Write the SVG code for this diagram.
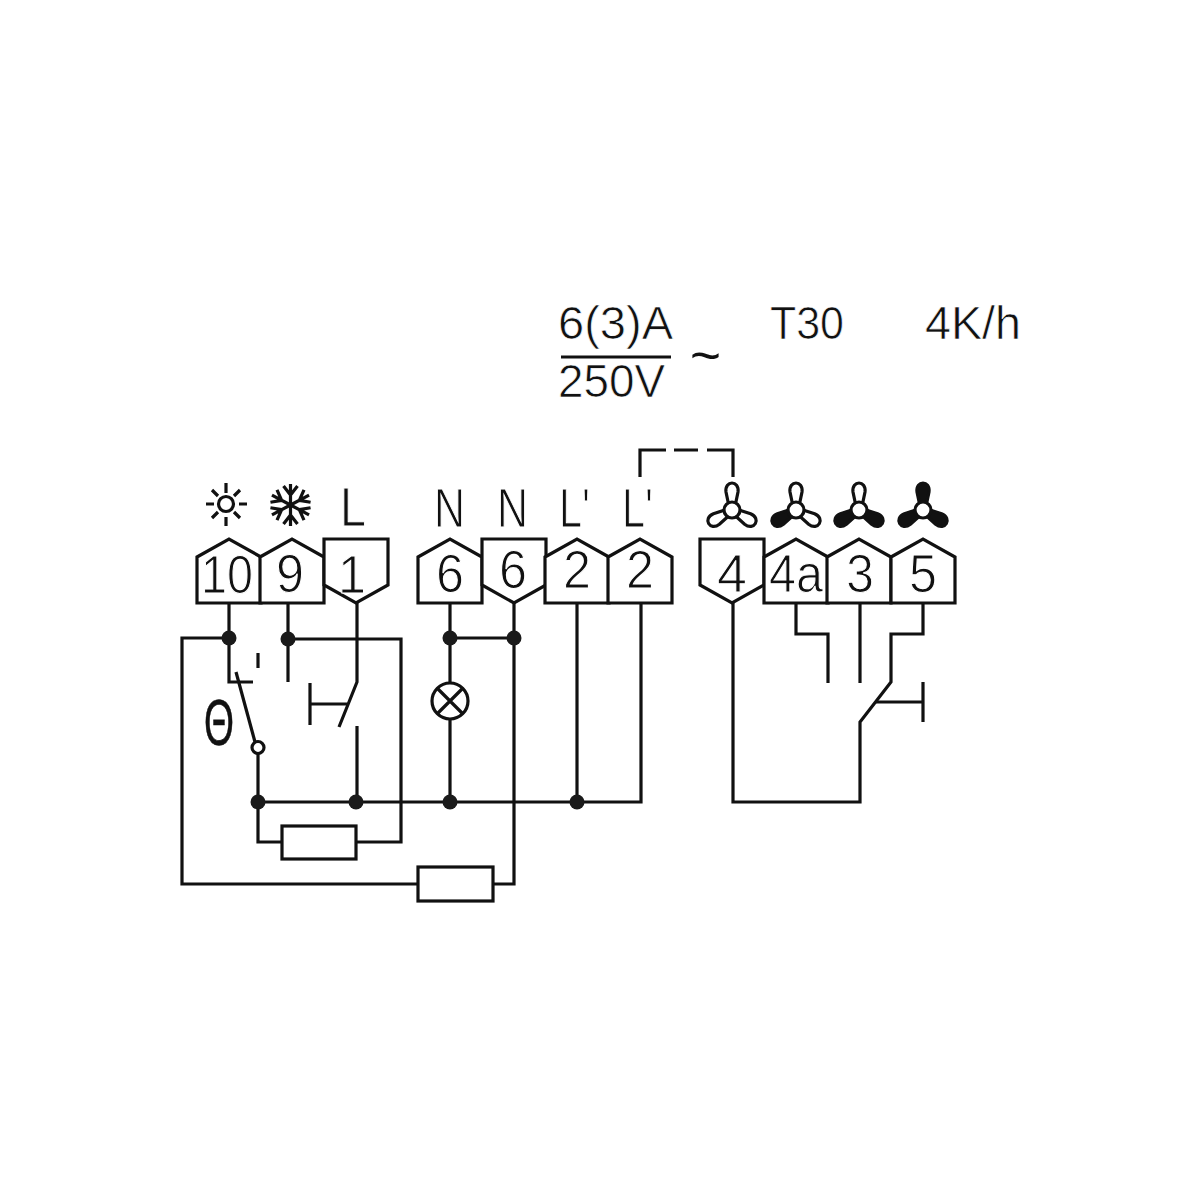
<svg xmlns="http://www.w3.org/2000/svg" width="1200" height="1200" viewBox="0 0 1200 1200">
<style>
.w{fill:none;stroke:#111;stroke-width:3.2;stroke-linejoin:miter;stroke-linecap:butt}
.b{fill:#fff;stroke:#111;stroke-width:3.2}
.d{fill:#1a1a1a}
.t{font-family:"Liberation Sans",Arial,sans-serif;font-size:53px;fill:#111;stroke:#fff;stroke-width:1.1px}
.l{font-size:56px}
.s{font-size:47px;stroke-width:.7px}
.bl{fill:#fff;stroke:#111;stroke-width:3.2}
.bk{fill:#111;stroke:#111;stroke-width:3.2}
</style>
<defs>
<path id="pent-up" d="M0,18 L32,0 L64,18 V64 H0 Z"/>
<path id="pent-down" d="M0,0 H64 V46 L32,64 L0,46 Z"/>
<path id="blade" d="M-3.500,-6 L-6,-18 C-7.500,-30 7.500,-30 6,-18 L3.500,-6 Z"/>
<path id="arm" d="M0,0V-21M0,-10L-7,-19M0,-10L7,-19"/>
</defs>

<g id="connectors" class="w">
<path d="M229,603V682H253"/>
<path d="M229,638H182V884H418"/>
<path d="M288,603V682"/>
<path d="M288,639H401V842H356"/>
<path d="M282,842H258V802"/>
<path d="M357,603V682L339,727"/>
<path d="M357,726V802"/>
<path d="M310,683V725M310,704H347"/>
<path d="M236,672L255,742"/>
<path d="M258,653V668"/>
<path d="M258,754V802"/>
<path d="M258,802H641V603"/>
<path d="M450,603V802"/>
<path d="M450,638H514"/>
<path d="M514,603V884H493"/>
<path d="M577,603V802"/>
<path d="M640,477V450H666M674,450H698M707,450H733V477"/>
<path d="M733,603V802H860V722L891,682V634H923V603"/>
<path d="M796,603V634H828V683"/>
<path d="M860,603V683"/>
<path d="M923,682V722M923,702H876"/>
<path d="M561,357H671"/>
</g>
<g id="junctions" class="d">
<circle cx="229" cy="638" r="7.500"/><circle cx="288" cy="639" r="7.500"/>
<circle cx="450" cy="638" r="7.500"/><circle cx="514" cy="638" r="7.500"/>
<circle cx="258" cy="802" r="7.500"/><circle cx="356" cy="802" r="7.500"/>
<circle cx="450" cy="802" r="7.500"/><circle cx="577" cy="802" r="7.500"/>
</g>

<g id="t10"><use href="#pent-up" x="197" y="539" class="b"/><text class="t" x="201" y="593" textLength="52" lengthAdjust="spacingAndGlyphs">10</text></g>
<g id="t9"><use href="#pent-up" x="260" y="539" class="b"/><text class="t" x="276" y="592" textLength="28" lengthAdjust="spacingAndGlyphs">9</text></g>
<g id="t1"><use href="#pent-down" x="324" y="539" class="b"/><text class="t" x="338" y="593" textLength="28" lengthAdjust="spacingAndGlyphs">1</text></g>
<g id="t6a"><use href="#pent-up" x="418" y="539" class="b"/><text class="t" x="436" y="592" textLength="28" lengthAdjust="spacingAndGlyphs">6</text></g>
<g id="t6b"><use href="#pent-down" x="482" y="539" class="b"/><text class="t" x="499" y="588" textLength="28" lengthAdjust="spacingAndGlyphs">6</text></g>
<g id="t2a"><use href="#pent-up" x="545" y="539" class="b"/><text class="t" x="563" y="588" textLength="28" lengthAdjust="spacingAndGlyphs">2</text></g>
<g id="t2b"><use href="#pent-up" x="608" y="539" class="b"/><text class="t" x="626" y="588" textLength="28" lengthAdjust="spacingAndGlyphs">2</text></g>
<g id="t4"><use href="#pent-down" x="700" y="539" class="b"/><text class="t" x="717" y="592" textLength="30" lengthAdjust="spacingAndGlyphs">4</text></g>
<g id="t4a"><use href="#pent-up" x="764" y="539" class="b"/><text class="t" x="769" y="592" textLength="54" lengthAdjust="spacingAndGlyphs">4a</text></g>
<g id="t3"><use href="#pent-up" x="827" y="539" class="b"/><text class="t" x="846" y="592" textLength="28" lengthAdjust="spacingAndGlyphs">3</text></g>
<g id="t5"><use href="#pent-up" x="891" y="539" class="b"/><text class="t" x="909" y="592" textLength="28" lengthAdjust="spacingAndGlyphs">5</text></g>

<g id="lbl-L"><text class="t l" x="340" y="526" textLength="26" lengthAdjust="spacingAndGlyphs">L</text></g>
<g id="lbl-N1"><text class="t l" x="434" y="527" textLength="31" lengthAdjust="spacingAndGlyphs">N</text></g>
<g id="lbl-N2"><text class="t l" x="497" y="527" textLength="31" lengthAdjust="spacingAndGlyphs">N</text></g>
<g id="lbl-L1"><text class="t l" x="559" y="527" textLength="31" lengthAdjust="spacingAndGlyphs">L'</text></g>
<g id="lbl-L2"><text class="t l" x="622" y="527" textLength="31" lengthAdjust="spacingAndGlyphs">L'</text></g>

<g id="rating">
<text class="t s" x="558" y="339" textLength="115" lengthAdjust="spacingAndGlyphs">6(3)A</text>
<text class="t s" x="558" y="397" textLength="107" lengthAdjust="spacingAndGlyphs">250V</text>
<text x="690" y="373" textLength="31" lengthAdjust="spacingAndGlyphs" style="font-family:'Liberation Sans',sans-serif;font-size:52px;fill:#111">~</text>
<text class="t s" x="770" y="339" textLength="74" lengthAdjust="spacingAndGlyphs">T30</text>
<text class="t s" x="925" y="339" textLength="96" lengthAdjust="spacingAndGlyphs">4K/h</text>
</g>

<g id="sun" class="w">
<circle cx="226" cy="504" r="7.500"/>
<path d="M226,483V493M226,517V526M206,504H214M239,504H247M212,490L218,496M240,490L234,496M212,518L218,512M240,518L234,512"/>
</g>
<g id="snow" class="w" style="stroke-width:3.200">
<use href="#arm" transform="translate(290.500,505)"/>
<use href="#arm" transform="translate(290.500,505) rotate(62)"/>
<use href="#arm" transform="translate(290.500,505) rotate(118)"/>
<use href="#arm" transform="translate(290.500,505) rotate(180)"/>
<use href="#arm" transform="translate(290.500,505) rotate(242)"/>
<use href="#arm" transform="translate(290.500,505) rotate(298)"/>
</g>

<g id="thermostat">
<text x="204" y="745" textLength="30" lengthAdjust="spacingAndGlyphs" style="font-family:'Liberation Sans',sans-serif;font-size:64px;fill:#111;stroke:#111;stroke-width:.6px">Θ</text>
<circle class="b" cx="258" cy="747.500" r="6"/>
</g>

<g id="lamp">
<circle class="b" cx="450" cy="701" r="18"/>
<path class="w" d="M437,688L463,714M463,688L437,714"/>
</g>
<g id="res1"><rect class="b" x="282" y="826" width="74" height="33"/></g>
<g id="res2"><rect class="b" x="418" y="867" width="75" height="34"/></g>

<g id="fan1"><use href="#blade" class="bl" transform="translate(732,510)"/><use href="#blade" class="bl" transform="translate(732,510) rotate(120)"/><use href="#blade" class="bl" transform="translate(732,510) rotate(240)"/><circle class="b" cx="732" cy="510" r="8"/></g>
<g id="fan2"><use href="#blade" class="bl" transform="translate(796,510)"/><use href="#blade" class="bl" transform="translate(796,510) rotate(120)"/><use href="#blade" class="bk" transform="translate(796,510) rotate(240)"/><circle class="b" cx="796" cy="510" r="8"/></g>
<g id="fan3"><use href="#blade" class="bl" transform="translate(859,510)"/><use href="#blade" class="bk" transform="translate(859,510) rotate(120)"/><use href="#blade" class="bk" transform="translate(859,510) rotate(240)"/><circle class="b" cx="859" cy="510" r="8"/></g>
<g id="fan4"><use href="#blade" class="bk" transform="translate(923,510)"/><use href="#blade" class="bk" transform="translate(923,510) rotate(120)"/><use href="#blade" class="bk" transform="translate(923,510) rotate(240)"/><circle class="b" cx="923" cy="510" r="8"/></g>
</svg>
